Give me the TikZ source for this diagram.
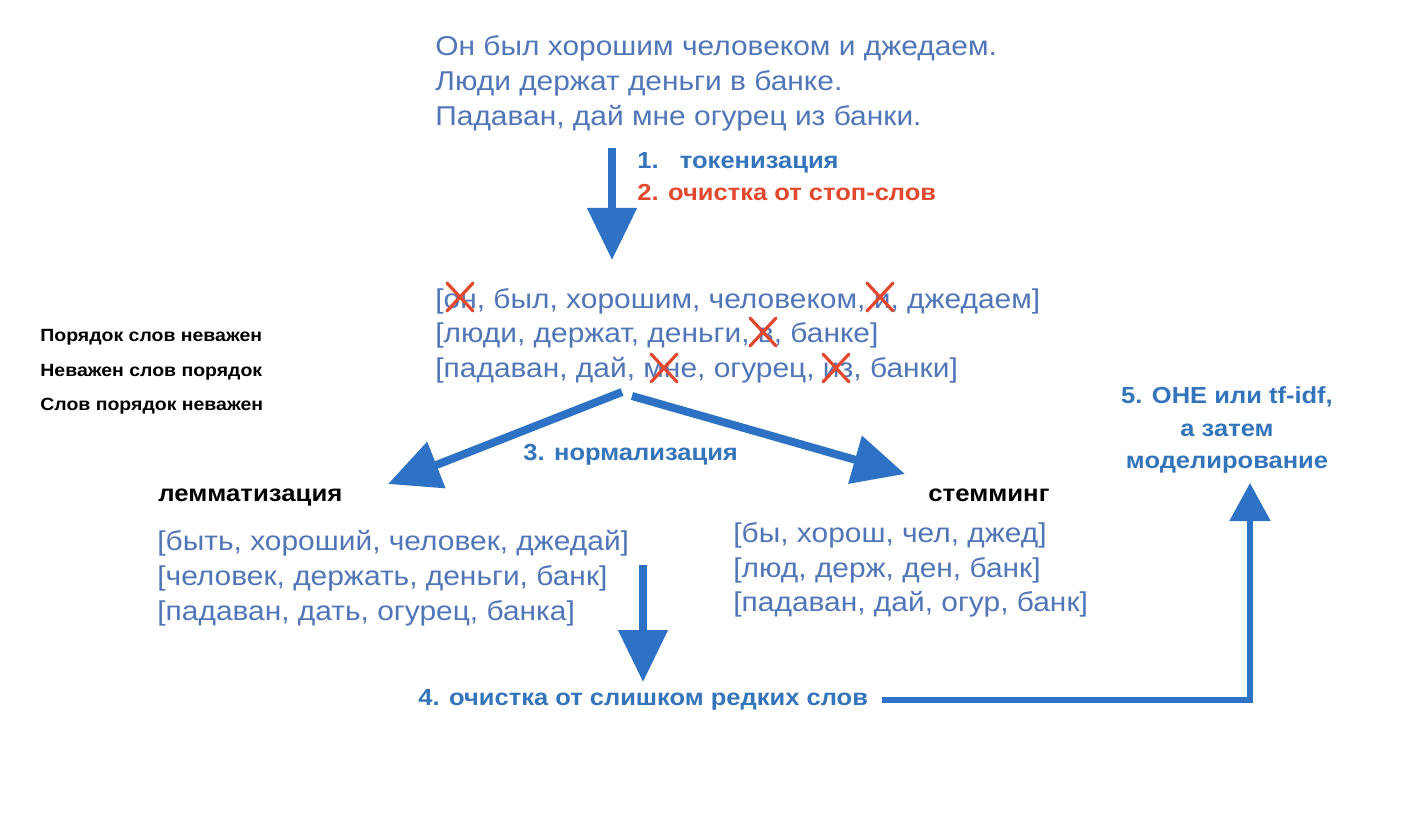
\documentclass[tikz,border=0pt]{standalone}
\usepackage{fontspec}
\setmainfont[FakeStretch=1.1]{Liberation Sans}
\usetikzlibrary{arrows.meta}
\definecolor{txtblue}{RGB}{80,118,184}
\definecolor{lblblue}{RGB}{52,116,186}
\definecolor{arrblue}{RGB}{45,114,196}
\definecolor{stopred}{RGB}{226,72,46}

\begin{document}
\begin{tikzpicture}[x=0.5pt,y=-0.5pt,
  txt/.style={anchor=base west,inner sep=0pt,text=txtblue,font=\fontsize{13.6}{16}\selectfont},
  lbl/.style={anchor=base west,inner sep=0pt,text=lblblue,font=\bfseries\fontsize{11.6}{14}\selectfont},
  hdr/.style={anchor=base west,inner sep=0pt,font=\bfseries\fontsize{11.7}{14}\selectfont},
  note/.style={anchor=base west,inner sep=0pt,font=\bfseries\fontsize{8.85}{10}\selectfont},
  flow/.style={arrblue,line width=4pt,-{Triangle[width=24pt,length=26pt]}},
  strike/.style={stopred,line width=1.6pt,line cap=round}]
\useasboundingbox (0,0) rectangle (1403,834);

% sentences
\foreach \i/\y/\t in {1/56/{Он был хорошим человеком и джедаем.},
  2/91/{Люди держат деньги в банке.},
  3/126/{Падаван, дай мне огурец из банки.}} {
  \node[txt] (sent\i) at (435,\y) {\t};
}
\node[lbl] (tok) at (637,169) {1.\ \ \ токенизация};
\node[lbl,text=stopred] (stop) at (637,201) {2. очистка от стоп-слов};

% tokens
\foreach \i/\y/\t in {1/308/{[он, был, хорошим, человеком, и, джедаем]},
  2/343/{[люди, держат, деньги, в, банке]},
  3/377/{[падаван, дай, мне, огурец, из, банки]}} {
  \node[txt] (tokens\i) at (435,\y) {\t};
}
\foreach \x/\y in {460/297,880/297,763/332,664/368,836/368} {
  \draw[strike] (\x-13,\y-14) -- (\x+13,\y+14);
  \draw[strike] (\x+13,\y-14) -- (\x-13,\y+14);
}

\foreach \i/\y/\t in {1/342/{Порядок слов неважен},
  2/376/{Неважен слов порядок},
  3/410/{Слов порядок неважен}} {
  \node[note] (order\i) at (40,\y) {\t};
}

\node[lbl] (norm) at (523,460) {3. нормализация};
\node[hdr] (lemma) at (158,501) {лемматизация};
\node[hdr] (stem) at (928,501) {стемминг};

\foreach \i/\y/\t in {1/550/{[быть, хороший, человек, джедай]},
  2/585/{[человек, держать, деньги, банк]},
  3/620/{[падаван, дать, огурец, банка]}} {
  \node[txt] (lem\i) at (157,\y) {\t};
}
\foreach \i/\y/\t in {1/542/{[бы, хорош, чел, джед]},
  2/577/{[люд, держ, ден, банк]},
  3/611/{[падаван, дай, огур, банк]}} {
  \node[txt] (stm\i) at (733,\y) {\t};
}

\node[lbl] (rare) at (418,705) {4. очистка от слишком редких слов};
\foreach \i/\y/\t in {1/403/{5. OHE или tf-idf,},2/436/{а затем},3/468/{моделирование}} {
  \node[lbl,anchor=base] (model\i) at (1227,\y) {\t};
}

% arrows
\coordinate (a1s) at (612,148);
\coordinate (a1e) at (612,260);
\coordinate (a2s) at (622,392);
\coordinate (a2e) at (388,484);
\coordinate (a3s) at (632,396);
\coordinate (a3e) at (905,474);
\coordinate (a4s) at (643,565);
\coordinate (a4e) at (643,682);
\coordinate (a5s) at (882,700);
\coordinate (a5c) at (1250,700);
\coordinate (a5e) at (1250,483);
\draw[flow] (a1s) -- (a1e);
\draw[flow] (a2s) -- (a2e);
\draw[flow] (a3s) -- (a3e);
\draw[flow] (a4s) -- (a4e);
\draw[flow,line width=2.6pt,-{Triangle[width=20pt,length=19pt]}] (a5s) -- (a5c) -- (a5e);
\end{tikzpicture}
\end{document}
